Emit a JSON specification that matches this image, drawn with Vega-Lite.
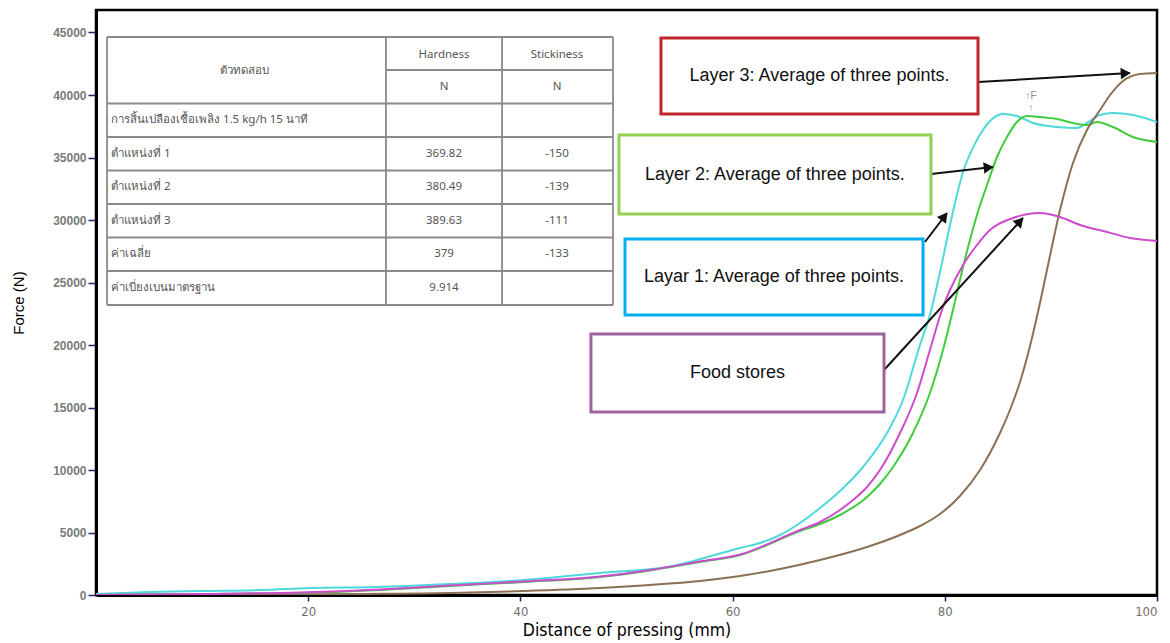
{
  "$schema": "https://vega.github.io/schema/vega-lite/v6.json",
  "width": 1061,
  "height": 585,
  "autosize": "none",
  "padding": {"left": 96, "top": 10, "right": 13, "bottom": 48},
  "background": "white",
  "config": {
    "view": {"stroke": "#000000", "strokeWidth": 2.5},
    "axis": {"grid": false},
    "axisX": {
      "domainColor": "#000000", "domainWidth": 3,
      "tickColor": "#23236a", "tickSize": 6, "tickWidth": 1.5,
      "labelColor": "#6e6e6e", "labelFont": "Liberation Sans Narrow, DejaVu Sans Condensed, Liberation Sans", "labelFontSize": 13, "labelPadding": 4,
      "titleFont": "Liberation Sans Narrow, DejaVu Sans Condensed, Liberation Sans", "titleFontSize": 17.5, "titleFontWeight": "normal", "titleColor": "#000000", "titlePadding": 3
    },
    "axisY": {
      "domainColor": "#000000", "domainWidth": 3,
      "tickColor": "#23236a", "tickSize": 8, "tickWidth": 1.5,
      "labelColor": "#7a7a7a", "labelFont": "Liberation Sans", "labelFontSize": 12, "labelFontWeight": "bold", "labelPadding": 2,
      "titleFont": "Liberation Sans", "titleFontSize": 15, "titleFontWeight": "normal", "titleColor": "#000000", "titlePadding": 26
    }
  },
  "datasets": {
    "curves": [
      {"series": "Layer 1", "x": 0, "y": 80}, {"series": "Layer 1", "x": 5.09, "y": 240}, {"series": "Layer 1", "x": 9.8, "y": 320}, {"series": "Layer 1", "x": 15.55, "y": 400}, {"series": "Layer 1", "x": 20.26, "y": 560}, {"series": "Layer 1", "x": 26.39, "y": 640}, {"series": "Layer 1", "x": 33.36, "y": 880}, {"series": "Layer 1", "x": 40.34, "y": 1200}, {"series": "Layer 1", "x": 47.5, "y": 1760}, {"series": "Layer 1", "x": 53.82, "y": 2240}, {"series": "Layer 1", "x": 60.7, "y": 3760}, {"series": "Layer 1", "x": 62.58, "y": 4160}, {"series": "Layer 1", "x": 64.47, "y": 4800}, {"series": "Layer 1", "x": 66.35, "y": 5760}, {"series": "Layer 1", "x": 68.24, "y": 6960}, {"series": "Layer 1", "x": 70.12, "y": 8320}, {"series": "Layer 1", "x": 72.29, "y": 10240}, {"series": "Layer 1", "x": 74.55, "y": 12960}, {"series": "Layer 1", "x": 76.06, "y": 15600}, {"series": "Layer 1", "x": 77.66, "y": 20000}, {"series": "Layer 1", "x": 78.6, "y": 22400}, {"series": "Layer 1", "x": 79.55, "y": 25840}, {"series": "Layer 1", "x": 80.49, "y": 29600}, {"series": "Layer 1", "x": 81.72, "y": 33840}, {"series": "Layer 1", "x": 83.03, "y": 36400}, {"series": "Layer 1", "x": 84.26, "y": 37920}, {"series": "Layer 1", "x": 85.49, "y": 38480}, {"series": "Layer 1", "x": 86.8, "y": 38320}, {"series": "Layer 1", "x": 88.31, "y": 37760}, {"series": "Layer 1", "x": 90.57, "y": 37440}, {"series": "Layer 1", "x": 92.46, "y": 37360}, {"series": "Layer 1", "x": 93.4, "y": 37760}, {"series": "Layer 1", "x": 94.63, "y": 38400}, {"series": "Layer 1", "x": 95.85, "y": 38560}, {"series": "Layer 1", "x": 97.74, "y": 38400}, {"series": "Layer 1", "x": 100, "y": 37840},
      {"series": "Layer 2", "x": 0, "y": 0}, {"series": "Layer 2", "x": 9.8, "y": 80}, {"series": "Layer 2", "x": 19.23, "y": 160}, {"series": "Layer 2", "x": 26.77, "y": 400}, {"series": "Layer 2", "x": 33.36, "y": 720}, {"series": "Layer 2", "x": 40.34, "y": 1040}, {"series": "Layer 2", "x": 47.5, "y": 1440}, {"series": "Layer 2", "x": 51.93, "y": 1920}, {"series": "Layer 2", "x": 56.93, "y": 2640}, {"series": "Layer 2", "x": 60.7, "y": 3200}, {"series": "Layer 2", "x": 66.35, "y": 5120}, {"series": "Layer 2", "x": 68.24, "y": 5680}, {"series": "Layer 2", "x": 70.12, "y": 6400}, {"series": "Layer 2", "x": 72.67, "y": 7840}, {"series": "Layer 2", "x": 73.89, "y": 8880}, {"series": "Layer 2", "x": 75.12, "y": 10240}, {"series": "Layer 2", "x": 77.0, "y": 12960}, {"series": "Layer 2", "x": 78.6, "y": 16160}, {"series": "Layer 2", "x": 79.83, "y": 19600}, {"series": "Layer 2", "x": 80.77, "y": 22800}, {"series": "Layer 2", "x": 81.72, "y": 26240}, {"series": "Layer 2", "x": 83.03, "y": 30400}, {"series": "Layer 2", "x": 83.98, "y": 32800}, {"series": "Layer 2", "x": 84.92, "y": 35040}, {"series": "Layer 2", "x": 85.86, "y": 36640}, {"series": "Layer 2", "x": 86.8, "y": 37840}, {"series": "Layer 2", "x": 87.75, "y": 38320}, {"series": "Layer 2", "x": 88.97, "y": 38240}, {"series": "Layer 2", "x": 90.57, "y": 38080}, {"series": "Layer 2", "x": 92.08, "y": 37760}, {"series": "Layer 2", "x": 93.4, "y": 37600}, {"series": "Layer 2", "x": 94.34, "y": 37840}, {"series": "Layer 2", "x": 95.85, "y": 37440}, {"series": "Layer 2", "x": 97.74, "y": 36640}, {"series": "Layer 2", "x": 100, "y": 36240},
      {"series": "Layer 3", "x": 0, "y": 0}, {"series": "Layer 3", "x": 14.51, "y": 0}, {"series": "Layer 3", "x": 23.94, "y": 80}, {"series": "Layer 3", "x": 33.36, "y": 160}, {"series": "Layer 3", "x": 40.34, "y": 320}, {"series": "Layer 3", "x": 47.5, "y": 560}, {"series": "Layer 3", "x": 52.21, "y": 800}, {"series": "Layer 3", "x": 56.93, "y": 1120}, {"series": "Layer 3", "x": 60.7, "y": 1520}, {"series": "Layer 3", "x": 64.47, "y": 2080}, {"series": "Layer 3", "x": 68.24, "y": 2800}, {"series": "Layer 3", "x": 72.67, "y": 3840}, {"series": "Layer 3", "x": 75.78, "y": 4800}, {"series": "Layer 3", "x": 77.66, "y": 5520}, {"series": "Layer 3", "x": 79.55, "y": 6480}, {"series": "Layer 3", "x": 81.43, "y": 7920}, {"series": "Layer 3", "x": 83.32, "y": 10000}, {"series": "Layer 3", "x": 85.2, "y": 12960}, {"series": "Layer 3", "x": 86.14, "y": 14800}, {"series": "Layer 3", "x": 87.09, "y": 17040}, {"series": "Layer 3", "x": 88.03, "y": 19920}, {"series": "Layer 3", "x": 88.97, "y": 23360}, {"series": "Layer 3", "x": 89.63, "y": 26000}, {"series": "Layer 3", "x": 90.86, "y": 30800}, {"series": "Layer 3", "x": 92.08, "y": 34560}, {"series": "Layer 3", "x": 93.4, "y": 37200}, {"series": "Layer 3", "x": 94.63, "y": 38800}, {"series": "Layer 3", "x": 95.58, "y": 40000}, {"series": "Layer 3", "x": 96.79, "y": 41120}, {"series": "Layer 3", "x": 98.4, "y": 41680}, {"series": "Layer 3", "x": 100, "y": 41760},
      {"series": "Food stores", "x": 0, "y": 0}, {"series": "Food stores", "x": 9.8, "y": 80}, {"series": "Food stores", "x": 19.23, "y": 200}, {"series": "Food stores", "x": 26.77, "y": 440}, {"series": "Food stores", "x": 33.36, "y": 760}, {"series": "Food stores", "x": 40.34, "y": 1080}, {"series": "Food stores", "x": 47.5, "y": 1480}, {"series": "Food stores", "x": 51.93, "y": 1960}, {"series": "Food stores", "x": 56.93, "y": 2680}, {"series": "Food stores", "x": 60.7, "y": 3240}, {"series": "Food stores", "x": 66.35, "y": 5200}, {"series": "Food stores", "x": 68.24, "y": 5840}, {"series": "Food stores", "x": 70.12, "y": 6800}, {"series": "Food stores", "x": 71.35, "y": 7600}, {"series": "Food stores", "x": 72.67, "y": 8640}, {"series": "Food stores", "x": 73.89, "y": 10000}, {"series": "Food stores", "x": 75.78, "y": 12960}, {"series": "Food stores", "x": 77.38, "y": 16160}, {"series": "Food stores", "x": 78.6, "y": 19600}, {"series": "Food stores", "x": 79.83, "y": 23040}, {"series": "Food stores", "x": 80.49, "y": 24400}, {"series": "Food stores", "x": 81.72, "y": 26400}, {"series": "Food stores", "x": 83.03, "y": 28000}, {"series": "Food stores", "x": 84.26, "y": 29200}, {"series": "Food stores", "x": 86.43, "y": 30160}, {"series": "Food stores", "x": 88.97, "y": 30560}, {"series": "Food stores", "x": 90.86, "y": 30240}, {"series": "Food stores", "x": 92.74, "y": 29600}, {"series": "Food stores", "x": 95.29, "y": 29040}, {"series": "Food stores", "x": 97.46, "y": 28560}, {"series": "Food stores", "x": 100, "y": 28320}
    ],
    "tableLines": [
      {"x": 1.04, "x2": 48.73, "y": 44640, "y2": 44640},
      {"x": 27.33, "x2": 48.73, "y": 42000, "y2": 42000},
      {"x": 1.04, "x2": 48.73, "y": 39320, "y2": 39320},
      {"x": 1.04, "x2": 48.73, "y": 36640, "y2": 36640},
      {"x": 1.04, "x2": 48.73, "y": 33960, "y2": 33960},
      {"x": 1.04, "x2": 48.73, "y": 31280, "y2": 31280},
      {"x": 1.04, "x2": 48.73, "y": 28600, "y2": 28600},
      {"x": 1.04, "x2": 48.73, "y": 25920, "y2": 25920},
      {"x": 1.04, "x2": 48.73, "y": 23200, "y2": 23200},
      {"x": 1.04, "x2": 1.04, "y": 23200, "y2": 44640},
      {"x": 27.33, "x2": 27.33, "y": 23200, "y2": 44640},
      {"x": 38.27, "x2": 38.27, "y": 23200, "y2": 44640},
      {"x": 48.73, "x2": 48.73, "y": 23200, "y2": 44640}
    ],
    "tableCenter": [
      {"x": 14.04, "y": 41900, "t": "ตัวทดสอบ"},
      {"x": 32.8, "y": 43200, "t": "Hardness"},
      {"x": 43.45, "y": 43200, "t": "Stickiness"},
      {"x": 32.8, "y": 40640, "t": "N"},
      {"x": 43.45, "y": 40640, "t": "N"},
      {"x": 32.8, "y": 35300, "t": "369.82"},
      {"x": 43.45, "y": 35300, "t": "-150"},
      {"x": 32.8, "y": 32620, "t": "380.49"},
      {"x": 43.45, "y": 32620, "t": "-139"},
      {"x": 32.8, "y": 29940, "t": "389.63"},
      {"x": 43.45, "y": 29940, "t": "-111"},
      {"x": 32.8, "y": 27260, "t": "379"},
      {"x": 43.45, "y": 27260, "t": "-133"},
      {"x": 32.8, "y": 24560, "t": "9.914"}
    ],
    "tableLeft": [
      {"x": 1.41, "y": 38000, "t": "การสิ้นเปลืองเชื้อเพลิง 1.5 kg/h 15 นาที"},
      {"x": 1.41, "y": 35300, "t": "ตำแหน่งที่ 1"},
      {"x": 1.41, "y": 32620, "t": "ตำแหน่งที่ 2"},
      {"x": 1.41, "y": 29940, "t": "ตำแหน่งที่ 3"},
      {"x": 1.41, "y": 27260, "t": "ค่าเฉลี่ย"},
      {"x": 1.41, "y": 24560, "t": "ค่าเบี่ยงเบนมาตรฐาน"}
    ],
    "boxes": [
      {"label": "Layer 3: Average of three points.", "key": "Layer 3", "x": 53.25, "x2": 83.13, "y": 44560, "y2": 38480, "cx": 68.19, "cy": 41520},
      {"label": "Layer 2: Average of three points.", "key": "Layer 2", "x": 49.29, "x2": 78.7, "y": 36800, "y2": 30480, "cx": 63.99, "cy": 33640},
      {"label": "Layar 1: Average of three points.", "key": "Layer 1", "x": 49.86, "x2": 77.95, "y": 28480, "y2": 22400, "cx": 63.9, "cy": 25440},
      {"label": "Food stores", "key": "Food stores", "x": 46.65, "x2": 74.27, "y": 20880, "y2": 14640, "cx": 60.46, "cy": 17760}
    ],
    "arrows": [
      {"x": 83.13, "y": 41040, "x2": 97.46, "y2": 41760, "hx": 96.89, "hy": 41730, "angle": 87},
      {"x": 78.7, "y": 33680, "x2": 84.54, "y2": 34240, "hx": 83.98, "hy": 34184, "angle": 84},
      {"x": 78.13, "y": 28240, "x2": 80.21, "y2": 30560, "hx": 79.87, "hy": 30176, "angle": 37},
      {"x": 74.27, "y": 18000, "x2": 87.37, "y2": 30160, "hx": 86.99, "hy": 29808, "angle": 42}
    ],
    "marker": [
      {"x": 88.12, "y": 39900, "t": "↑F\n↑"}
    ]
  },
  "layer": [
    {
      "data": {"name": "curves"},
      "mark": {"type": "line", "strokeWidth": 2, "interpolate": "monotone", "clip": true},
      "encoding": {
        "x": {
          "field": "x", "type": "quantitative", "title": "Distance of pressing (mm)",
          "scale": {"domain": [0, 100], "nice": false, "zero": false},
          "axis": {"values": [20, 40, 60, 80, 100], "format": "d"}
        },
        "y": {
          "field": "y", "type": "quantitative", "title": "Force (N)",
          "scale": {"domain": [0, 46800], "nice": false, "zero": true},
          "axis": {"values": [0, 5000, 10000, 15000, 20000, 25000, 30000, 35000, 40000, 45000], "format": "d"}
        },
        "color": {
          "field": "series", "type": "nominal",
          "scale": {"domain": ["Layer 1", "Layer 2", "Layer 3", "Food stores"], "range": ["#4fd8dc", "#3fcc3f", "#8b7055", "#cc4ccc"]},
          "legend": null
        },
        "order": {"field": "x", "type": "quantitative"}
      }
    },
    {
      "data": {"name": "tableLines"},
      "mark": {"type": "rule", "color": "#8a8a8a", "strokeWidth": 1.8},
      "encoding": {
        "x": {"field": "x", "type": "quantitative", "title": "Distance of pressing (mm)"},
        "x2": {"field": "x2"},
        "y": {"field": "y", "type": "quantitative", "title": "Force (N)"},
        "y2": {"field": "y2"}
      }
    },
    {
      "data": {"name": "tableCenter"},
      "mark": {"type": "text", "align": "center", "baseline": "middle", "font": "Noto Sans, Liberation Sans", "fontSize": 11.5, "color": "#555555"},
      "encoding": {
        "x": {"field": "x", "type": "quantitative", "title": "Distance of pressing (mm)"},
        "y": {"field": "y", "type": "quantitative", "title": "Force (N)"},
        "text": {"field": "t"}
      }
    },
    {
      "data": {"name": "tableLeft"},
      "mark": {"type": "text", "align": "left", "baseline": "middle", "font": "Noto Sans, Liberation Sans", "fontSize": 11.5, "color": "#555555"},
      "encoding": {
        "x": {"field": "x", "type": "quantitative", "title": "Distance of pressing (mm)"},
        "y": {"field": "y", "type": "quantitative", "title": "Force (N)"},
        "text": {"field": "t"}
      }
    },
    {
      "data": {"name": "arrows"},
      "mark": {"type": "rule", "color": "#111111", "strokeWidth": 2},
      "encoding": {
        "x": {"field": "x", "type": "quantitative", "title": "Distance of pressing (mm)"},
        "x2": {"field": "x2"},
        "y": {"field": "y", "type": "quantitative", "title": "Force (N)"},
        "y2": {"field": "y2"}
      }
    },
    {
      "data": {"name": "arrows"},
      "mark": {"type": "point", "shape": "triangle", "filled": true, "color": "#111111", "size": 130, "opacity": 1},
      "encoding": {
        "x": {"field": "hx", "type": "quantitative", "title": "Distance of pressing (mm)"},
        "y": {"field": "hy", "type": "quantitative", "title": "Force (N)"},
        "angle": {"field": "angle", "type": "quantitative", "scale": null}
      }
    },
    {
      "data": {"name": "boxes"},
      "mark": {"type": "rect", "fill": "#ffffff", "strokeWidth": 3},
      "encoding": {
        "x": {"field": "x", "type": "quantitative", "title": "Distance of pressing (mm)"},
        "x2": {"field": "x2"},
        "y": {"field": "y", "type": "quantitative", "title": "Force (N)"},
        "y2": {"field": "y2"},
        "stroke": {
          "field": "key", "type": "nominal",
          "scale": {"domain": ["Layer 3", "Layer 2", "Layer 1", "Food stores"], "range": ["#c0262d", "#92d050", "#00b0f0", "#9e63a0"]},
          "legend": null
        }
      }
    },
    {
      "data": {"name": "boxes"},
      "mark": {"type": "text", "align": "center", "baseline": "middle", "font": "Liberation Sans", "fontSize": 18, "color": "#111111"},
      "encoding": {
        "x": {"field": "cx", "type": "quantitative", "title": "Distance of pressing (mm)"},
        "y": {"field": "cy", "type": "quantitative", "title": "Force (N)"},
        "text": {"field": "label"}
      }
    },
    {
      "data": {"name": "marker"},
      "mark": {"type": "text", "align": "center", "baseline": "middle", "font": "Liberation Sans", "fontSize": 10, "color": "#8a8a9a", "lineBreak": "\n", "lineHeight": 12},
      "encoding": {
        "x": {"field": "x", "type": "quantitative", "title": "Distance of pressing (mm)"},
        "y": {"field": "y", "type": "quantitative", "title": "Force (N)"},
        "text": {"field": "t"}
      }
    }
  ]
}
